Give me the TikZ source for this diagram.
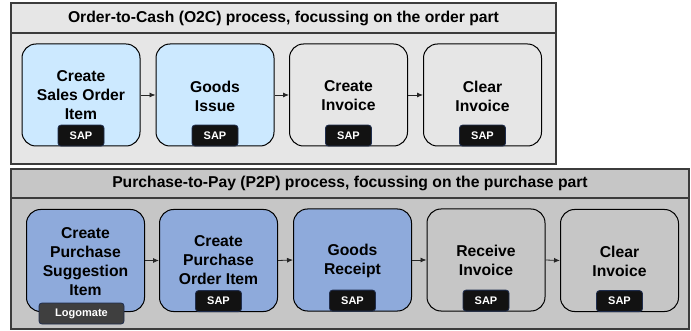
\documentclass[tikz,border=0pt]{standalone}
\usepackage{fontspec}
\setmainfont{Liberation Sans}
\usetikzlibrary{arrows.meta}

\definecolor{frameOC}{HTML}{E6E6E6}
\definecolor{framePP}{HTML}{C6C6C6}
\definecolor{lightblue}{HTML}{CCE9FF}
\definecolor{midblue}{HTML}{8EAADB}
\definecolor{framedraw}{HTML}{3C3C3C}
\definecolor{badgeborder}{HTML}{1F2D4D}
\definecolor{badgefill}{HTML}{121212}
\definecolor{logofill}{HTML}{3F3F3F}

\tikzset{
  frame/.style={draw=framedraw, line width=1.4pt},
  headline/.style={draw=framedraw, line width=1.2pt},
  title/.style={font=\bfseries\fontsize{15.7}{19}\selectfont, text=black},
  stepbox/.style={draw=black, line width=1pt, rounded corners=14pt,
    minimum width=118pt, minimum height=102pt, inner sep=0pt},
  steptext/.style={font=\bfseries\fontsize{15.7}{19}\selectfont, align=center, text=black},
  sapbadge/.style={draw=badgeborder, fill=badgefill, line width=0.8pt, rounded corners=3pt,
    minimum width=46pt, minimum height=21pt, inner sep=0pt,
    font=\bfseries\fontsize{11}{13}\selectfont, text=white},
  logobadge/.style={sapbadge, fill=logofill, minimum width=85pt},
  flow/.style={draw=black!85, line width=0.8pt, -{Latex[length=6pt,width=5pt]}}
}

\begin{document}
\begin{tikzpicture}[x=1pt,y=-1pt]
\useasboundingbox (0,0) rectangle (691,331);

% ---------- Order-to-Cash frame ----------
\fill[frameOC] (11,3) rectangle (556,164);
\draw[headline] (11,33) -- (556,33);
\draw[frame] (11,3) rectangle (556,164);
\node[title] (octitle) at (283.5,18) {Order-to-Cash (O2C) process, focussing on the order part};

\node[stepbox, fill=lightblue] (o1) at (81,95) {};
\node[stepbox, fill=lightblue] (o2) at (215,95) {};
\node[stepbox, fill=frameOC]   (o3) at (348.5,95) {};
\node[stepbox, fill=frameOC]   (o4) at (482.5,95) {};

\node[steptext] (o1t) at (81,95) {Create\\Sales Order\\Item};
\node[steptext] (o2t) at (215,96) {Goods\\Issue};
\node[steptext] (o3t) at (348.5,96) {Create\\Invoice};
\node[steptext] (o4t) at (482.5,96) {Clear\\Invoice};

\foreach \b in {o1,o2,o3,o4}
  \node[sapbadge, anchor=south] (\b sap) at (\b.south) {SAP};

\draw[flow] (o1.east) -- (o2.west);
\draw[flow] (o2.east) -- (o3.west);
\draw[flow] (o3.east) -- (o4.west);

% ---------- Purchase-to-Pay frame ----------
\fill[framePP] (11,169) rectangle (689,329);
\draw[headline] (11,198) -- (689,198);
\draw[frame] (11,169) rectangle (689,329);
\node[title] (pptitle) at (350,183.5) {Purchase-to-Pay (P2P) process, focussing on the purchase part};

\node[stepbox, fill=midblue]  (p1) at (85.5,260.5) {};
\node[stepbox, fill=midblue]  (p2) at (218.5,260.5) {};
\node[stepbox, fill=midblue]  (p3) at (352.5,260) {};
\node[stepbox, fill=framePP]  (p4) at (486,260) {};
\node[stepbox, fill=framePP]  (p5) at (619.5,260.5) {};

\node[steptext] (p1t) at (85.5,261.5) {Create\\Purchase\\Suggestion\\Item};
\node[steptext] (p2t) at (218.5,260.5) {Create\\Purchase\\Order Item};
\node[steptext] (p3t) at (352.5,260.5) {Goods\\Receipt};
\node[steptext] (p4t) at (486,260.5) {Receive\\Invoice};
\node[steptext] (p5t) at (619.5,261) {Clear\\Invoice};

\node[logobadge] (p1logo) at (81.5,313.5) {Logomate};
\foreach \b in {p2,p3,p4,p5}
  \node[sapbadge, anchor=south] (\b sap) at (\b.south) {SAP};

\draw[flow] (p1.east) -- (p2.west);
\draw[flow] (p2.east) -- (p3.west);
\draw[flow] (p3.east) -- (p4.west);
\draw[flow] (p4.east) -- (p5.west);
\end{tikzpicture}
\end{document}
